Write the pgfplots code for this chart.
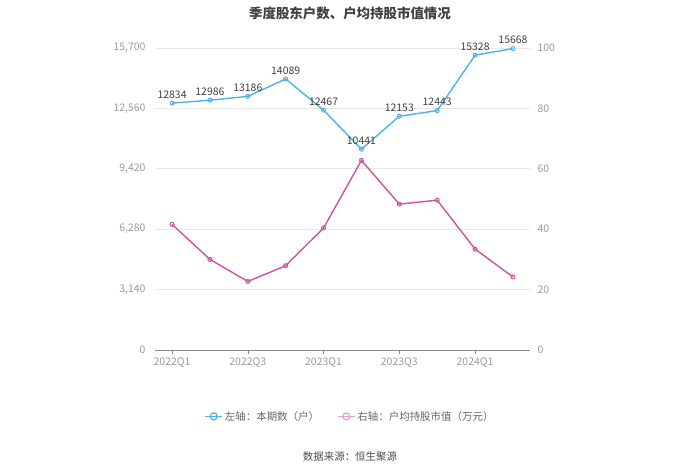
\documentclass[border=0pt]{standalone}
\usepackage{fontspec}
\setmainfont{Noto Sans CJK SC}
\usepackage{pgfplots}
\pgfplotsset{compat=1.18}
\definecolor{cblue}{HTML}{4DB3E6}
\definecolor{cpink}{HTML}{C9559F}
\definecolor{tgray}{HTML}{9A9A9A}
\definecolor{ggray}{HTML}{E8E8E8}
\definecolor{agray}{HTML}{888888}
\begin{document}
\begin{tikzpicture}[x=1bp,y=1bp]
\useasboundingbox (0,0) rectangle (700,474);
\node[font=\bfseries\fontsize{13.5}{16}\selectfont, text=black!75] at (350,461) {季度股东户数、户均持股市值情况};
\node[font=\fontsize{10.5}{12}\selectfont, text=black!70] at (350,17) {数据来源：恒生聚源};
\begin{axis}[
  at={(155bp,124bp)}, anchor=south west, scale only axis,
  width=375bp, height=302bp,
  xmin=-0.45, xmax=9.45, ymin=0, ymax=15700,
  ytick={0,3140,6280,9420,12560,15700},
  scaled y ticks=false,
  /pgf/number format/fixed,
  /pgf/number format/1000 sep={,},
  /pgf/number format/assume math mode=true,
  xtick={0,2,4,6,8}, xticklabels={2022Q1,2022Q3,2023Q1,2023Q3,2024Q1},
  axis y line*=left, axis x line*=bottom,
  y axis line style={draw=none},
  x axis line style={agray, -},
  xtick style={agray}, ytick style={draw=none},
  tick align=outside, major tick length=4bp,
  ymajorgrids, grid style={ggray, line width=0.8pt},
  tick label style={tgray, font=\fontsize{10.5}{12}\selectfont},
  yticklabel style={xshift=-2bp},
  clip=false,
  nodes near coords,
  every node near coord/.append style={font=\fontsize{10.5}{12}\selectfont, text=black!75, yshift=1bp},
  point meta=explicit symbolic,
]
\addplot[cblue, line width=1.4pt, mark=o, mark size=2bp, mark options={fill=white, line width=1pt}]
  table[meta=label] {
x y label
0 12834 12834
1 12986 12986
2 13186 13186
3 14089 14089
4 12467 12467
5 10441 10441
6 12153 12153
7 12443 12443
8 15328 15328
9 15668 15668
};
\end{axis}
\begin{axis}[
  at={(155bp,124bp)}, anchor=south west, scale only axis,
  width=375bp, height=302bp,
  xmin=-0.45, xmax=9.45, ymin=0, ymax=100,
  ytick={0,20,40,60,80,100},
  /pgf/number format/assume math mode=true,
  axis y line*=right, axis x line=none,
  y axis line style={draw=none}, ytick style={draw=none},
  tick label style={tgray, font=\fontsize{10.5}{12}\selectfont},
  yticklabel style={xshift=4bp},
  legend columns=2,
  legend style={draw=none, fill=none, at={(0.52,-0.22)}, anchor=center,
    font=\fontsize{10.5}{12}\selectfont, text=black!60,
    /tikz/every even column/.append style={column sep=16bp}},
]
\addlegendimage{cblue, line width=1.4pt, mark=o, mark size=3.5bp, mark options={fill=white, line width=1.2pt}}
\addlegendentry{左轴：本期数（户）}
\addplot[cpink, line width=1.4pt, mark=o, mark size=2bp, mark options={fill=white, line width=1pt},
  forget plot]
  coordinates {(0,41.6) (1,30.0) (2,22.7) (3,27.9) (4,40.4) (5,62.8) (6,48.3) (7,49.6) (8,33.4) (9,24.2)};
\addlegendimage{cpink!55, line width=1.4pt, mark=o, mark size=3.5bp, mark options={fill=white, line width=1.2pt}}
\addlegendentry{右轴：户均持股市值（万元）}
\end{axis}
\end{tikzpicture}
\end{document}
